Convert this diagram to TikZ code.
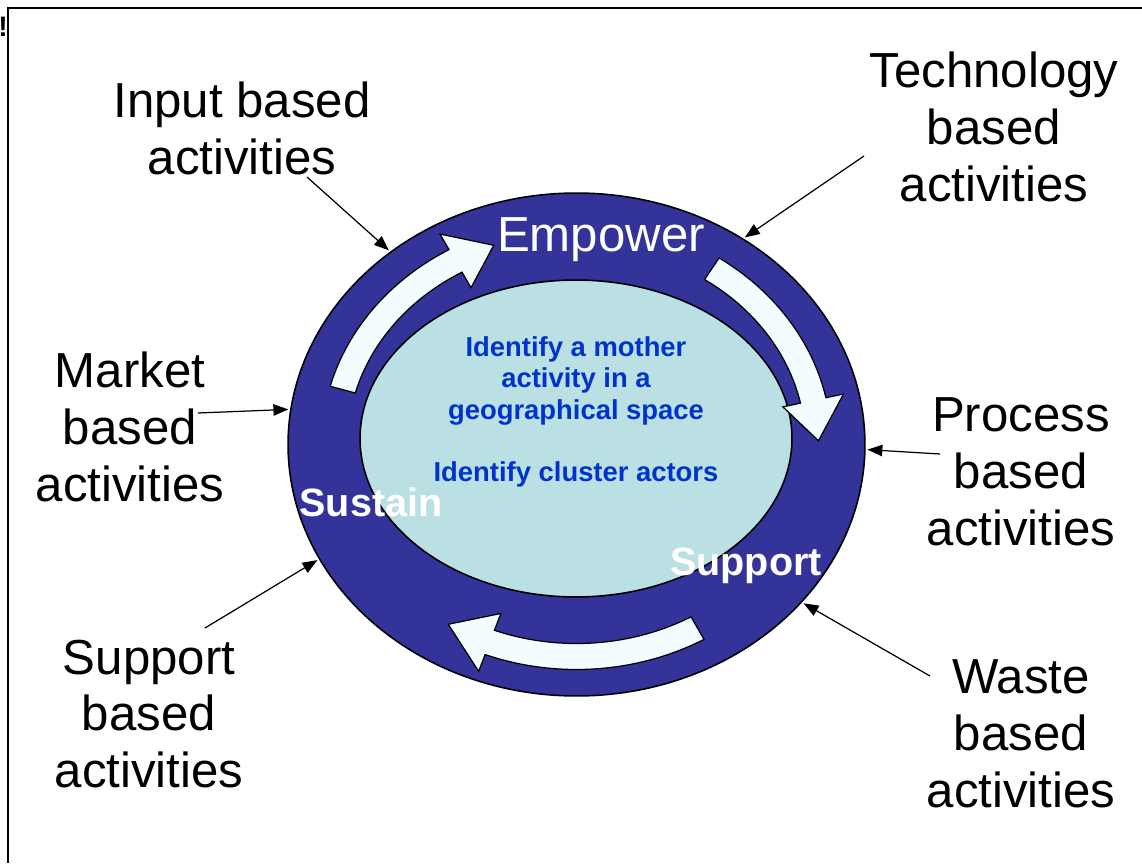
\documentclass[tikz,border=0pt]{standalone}
\usepackage{fontspec}
\setmainfont{Liberation Sans}
\usepackage{tikz}
\usetikzlibrary{arrows.meta, positioning, shapes.geometric}

\definecolor{ringblue}{RGB}{51,51,153}
\definecolor{coreteal}{RGB}{187,224,227}
\definecolor{coreblue}{RGB}{0,51,204}
\definecolor{arrowwhite}{RGB}{244,253,253}

% curved block arrow in the ring: tail angle, head base angle, tip angle
\newcommand{\ringarrow}[3]{
    \draw[cyclearrow] (#1:255 and 225)
        arc[start angle=#1, end angle=#2, x radius=255, y radius=225]
        -- (#2:273 and 243) -- (#3:242 and 212) -- (#2:211 and 181)
        -- (#2:229 and 199)
        arc[start angle=#2, end angle=#1, x radius=229, y radius=199] -- cycle;
}

\begin{document}
\begin{tikzpicture}[x=0.02cm, y=0.02cm,
    ring/.style={ellipse, draw, line width=0.9pt, fill=ringblue, inner sep=0pt},
    core/.style={ellipse, draw, line width=0.9pt, fill=coreteal, inner sep=0pt},
    cyclearrow/.style={draw, line width=0.7pt, fill=arrowwhite, line join=miter},
    activity/.style={align=center, font=\fontsize{28}{32.4}\selectfont, inner sep=0pt},
    stage/.style={text=white, font=\bfseries\fontsize{22.5}{26}\selectfont, inner sep=0pt},
    pointer/.style={-{Triangle[length=8.5pt, width=6.5pt]}, line width=0.7pt, shorten >=1pt}
]

% Page size and frame
\useasboundingbox (0,0) rectangle (1142,863);
\draw[line width=1.1pt] (8,0) -- (8,855) -- (1142,855);
\node[font=\bfseries\fontsize{16}{18}\selectfont, inner sep=0pt] (bang) at (3,836) {!};

% Ring and core
\node[ring, minimum width=11.54cm, minimum height=10.06cm] (ring) at (576.5,418.5) {};
\node[core, minimum width=8.64cm, minimum height=6.34cm] (core) at (576,424.5) {};

% Cycle arrows
\begin{scope}[shift={(ring.center)}]
\ringarrow{165}{120}{110}
\ringarrow{56}{12}{1}
\ringarrow{-60}{-111}{-122}
\end{scope}

% Stages
\node[text=white, font=\fontsize{28}{32}\selectfont, inner sep=0pt] (empower) at (601,623) {Empower};
\node[stage] (sustain) at (371,361) {Sustain};
\node[stage] (support) at (746,297) {Support};

% Core text
\node[align=center, text=coreblue, font=\bfseries\fontsize{15.6}{17.9}\selectfont, inner sep=0pt]
    (coretext) at (576,451)
    {Identify a mother\\activity in a\\geographical space\\[17.9pt]Identify cluster actors};

% Activities
\node[activity] (input) at (242,735) {Input based\\activities};
\node[activity] (tech) at (994,736) {Technology\\based\\activities};
\node[activity] (market) at (130,436) {Market\\based\\activities};
\node[activity] (process) at (1021,391) {Process\\based\\activities};
\node[activity] (supp) at (149,149) {Support\\based\\activities};
\node[activity] (waste) at (1021,129) {Waste\\based\\activities};

% Pointers into the ring
\coordinate (intail) at (307,686);
\coordinate (techtail) at (864,707);
\coordinate (markettail) at (198,450);
\coordinate (proctail) at (940,409);
\coordinate (supptail) at (205,235);
\coordinate (wastetail) at (930,187);

\draw[pointer] (intail) -- (ring.134.7);
\draw[pointer] (techtail) -- (ring.51);
\draw[pointer] (markettail) -- (ring.173.7);
\draw[pointer] (proctail) -- (ring.-1.9);
\draw[pointer] (supptail) -- (ring.204.3);
\draw[pointer] (wastetail) -- (ring.-35.9);

\end{tikzpicture}
\end{document}
